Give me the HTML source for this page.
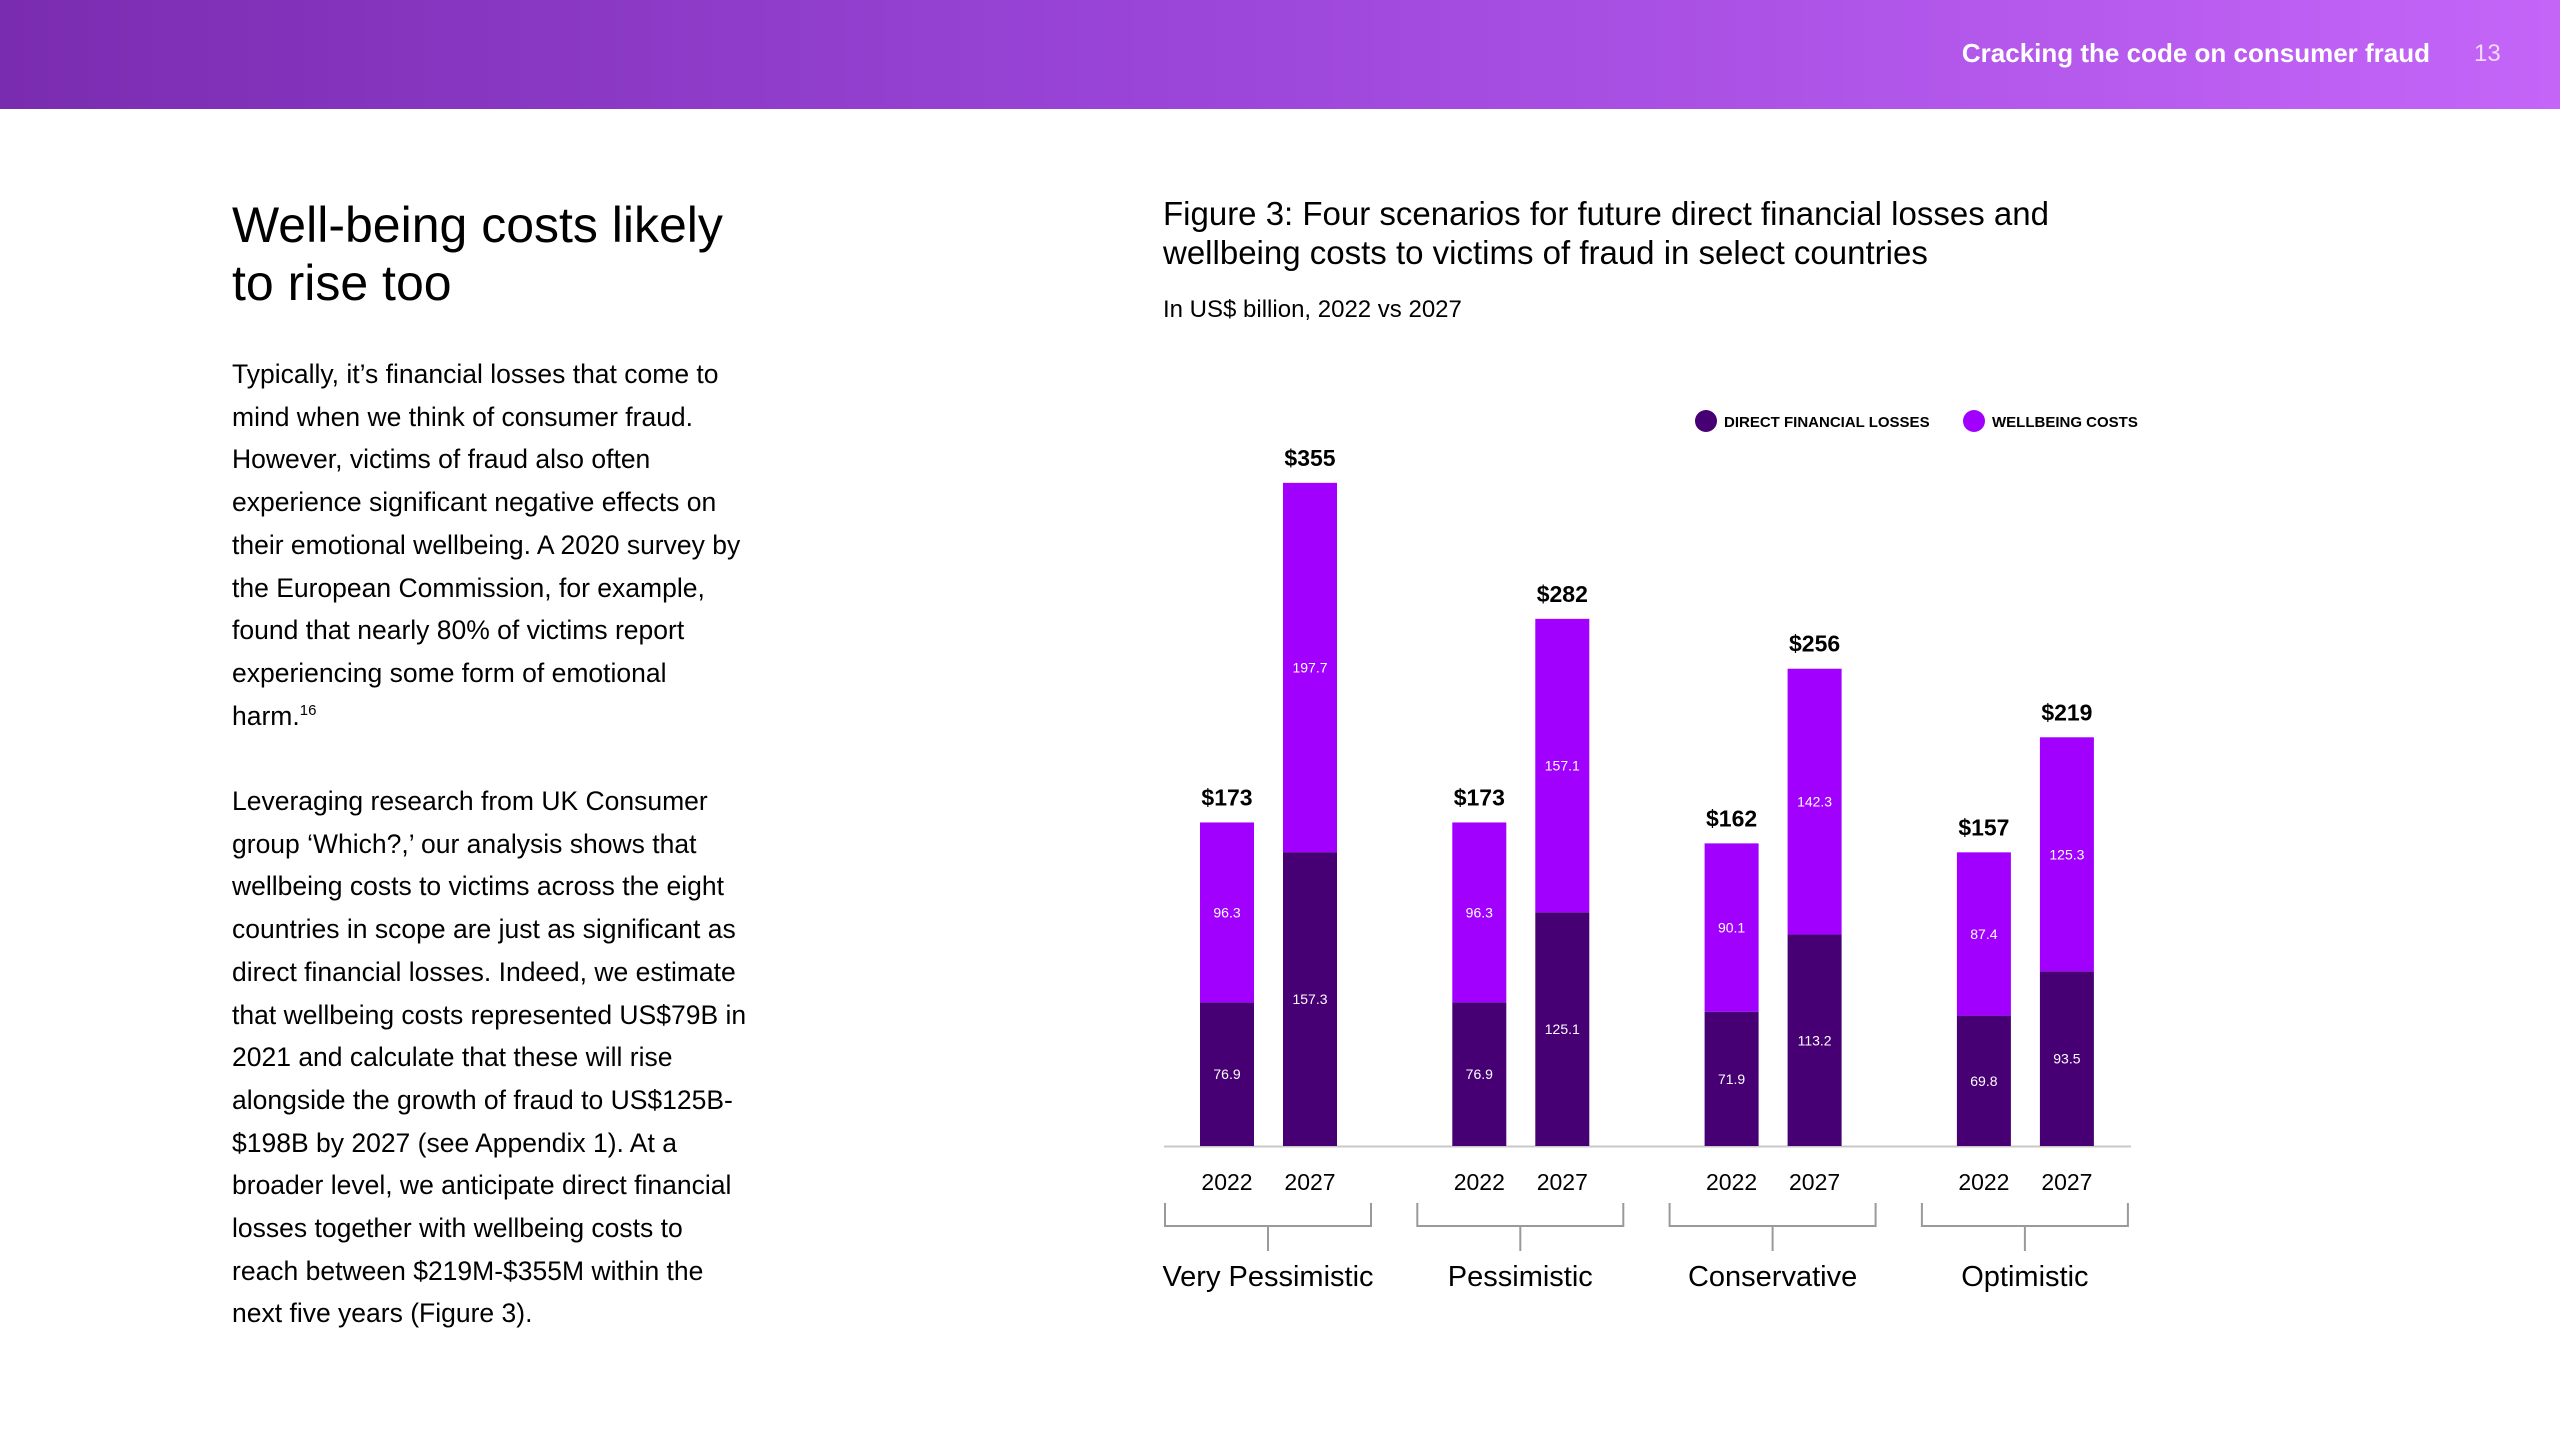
<!DOCTYPE html>
<html><head><meta charset="utf-8"><style>
html,body{margin:0;padding:0;background:#fff;}
body{width:2560px;height:1440px;position:relative;overflow:hidden;font-family:"Liberation Sans",sans-serif;color:#000;}
.hdr{position:absolute;left:0;top:0;width:2560px;height:109px;background:linear-gradient(90deg,#7a2cb0 0%,#9a45d8 45%,#c465f8 100%);}
.hdr .t{position:absolute;right:130px;top:38px;color:#fff;font-weight:bold;font-size:26px;}
.hdr .n{position:absolute;left:2474px;top:40px;color:#f0d8ff;font-size:24px;}
h1{position:absolute;left:232px;top:196px;margin:0;font-size:50px;font-weight:normal;line-height:58px;}
.body{position:absolute;left:232px;top:353px;white-space:nowrap;font-size:26.5px;line-height:42.7px;}
.body p{margin:0 0 42.7px 0;}
.body sup{font-size:15px;line-height:0;}
.ft{position:absolute;left:1163px;top:194px;font-size:33px;line-height:39px;white-space:nowrap;}
.sub{position:absolute;left:1163px;top:296px;font-size:24px;}
svg{position:absolute;left:0;top:0;}
</style></head><body>
<div class="hdr">
<div class="t">Cracking the code on consumer fraud</div>
<div class="n">13</div>
</div>
<h1>Well-being costs likely<br>to rise too</h1>
<div class="body">
<p>Typically, it’s financial losses that come to<br>mind when we think of consumer fraud.<br>However, victims of fraud also often<br>experience significant negative effects on<br>their emotional wellbeing. A 2020 survey by<br>the European Commission, for example,<br>found that nearly 80% of victims report<br>experiencing some form of emotional<br>harm.<sup>16</sup></p>
<p>Leveraging research from UK Consumer<br>group ‘Which?,’ our analysis shows that<br>wellbeing costs to victims across the eight<br>countries in scope are just as significant as<br>direct financial losses. Indeed, we estimate<br>that wellbeing costs represented US$79B in<br>2021 and calculate that these will rise<br>alongside the growth of fraud to US$125B-<br>$198B by 2027 (see Appendix 1). At a<br>broader level, we anticipate direct financial<br>losses together with wellbeing costs to<br>reach between $219M-$355M within the<br>next five years (Figure 3).</p>
</div>
<div class="ft">Figure 3: Four scenarios for future direct financial losses and<br>wellbeing costs to victims of fraud in select countries</div>
<div class="sub">In US$ billion, 2022 vs 2027</div>
<svg id="chart" width="2560" height="1440"></svg>
<script>
const scenarios=["Very Pessimistic","Pessimistic","Conservative","Optimistic"];
const years=["2022","2027"];
const direct=[[76.9,157.3],[76.9,125.1],[71.9,113.2],[69.8,93.5]];
const wellbeing=[[96.3,197.7],[96.3,157.1],[90.1,142.3],[87.4,125.3]];
const totals=[[173,355],[173,282],[162,256],[157,219]];
const DARK="#460073",BRIGHT="#a100ff";
const NS="http://www.w3.org/2000/svg";
const svg=document.getElementById('chart');
const base=1146,scale=1.868;
function y(v){return base-v*scale;}
function gx(g){return 1164+g*252.3;}
function bx(g,i){return gx(g)+36+i*83;}
const bw=54;
function mk(t,a,txt){const e=document.createElementNS(NS,t);for(const k in a)e.setAttribute(k,a[k]);if(txt!==undefined)e.textContent=txt;svg.appendChild(e);return e;}
let e;
e=mk('circle',{cx:1706,cy:421,r:11,fill:DARK});


e=mk('text',{x:1724,y:427,'font-size':15,'font-weight':'bold',fill:'#000'},'DIRECT FINANCIAL LOSSES');


e=mk('circle',{cx:1974,cy:421,r:11,fill:BRIGHT});


e=mk('text',{x:1992,y:427,'font-size':15,'font-weight':'bold',fill:'#000'},'WELLBEING COSTS');


e=mk('line',{x1:1164,x2:2131,y1:base+0.5,y2:base+0.5,stroke:'#c8c8c8','stroke-width':2});


scenarios.forEach((s,g)=>{
  years.forEach((yr,i)=>{
    const x=bx(g,i),d=direct[g][i],w=wellbeing[g][i];
    e=mk('rect',{x:x,y:y(d),width:bw,height:d*scale,fill:DARK});
    
    
    e=mk('rect',{x:x,y:y(d+w),width:bw,height:w*scale,fill:BRIGHT});
    
    
    e=mk('text',{x:x+bw/2,y:y(d/2)+5,'font-size':14,fill:'#fff','text-anchor':'middle'},String(d));
    
    
    e=mk('text',{x:x+bw/2,y:y(d+w/2)+5,'font-size':14,fill:'#fff','text-anchor':'middle'},String(w));
    
    
    e=mk('text',{x:x+bw/2,y:y(d+w)-17,'font-size':23,'font-weight':'bold',fill:'#000','text-anchor':'middle'},'$'+totals[g][i]);
    
    
    e=mk('text',{x:x+bw/2,y:1190,'font-size':23,fill:'#000','text-anchor':'middle'},yr);
    
    
  });
  const l=gx(g),r=l+208,c=(l+r)/2;
  e=mk('path',{d:`M${l+1} 1203 V1226 H${r-1} V1203 M${c} 1226 V1251`,fill:'none',stroke:'#9a9a9a','stroke-width':2});
  
  
  e=mk('text',{x:c,y:1286,'font-size':29,fill:'#000','text-anchor':'middle'},s);
  
  
});
</script>
</body></html>
